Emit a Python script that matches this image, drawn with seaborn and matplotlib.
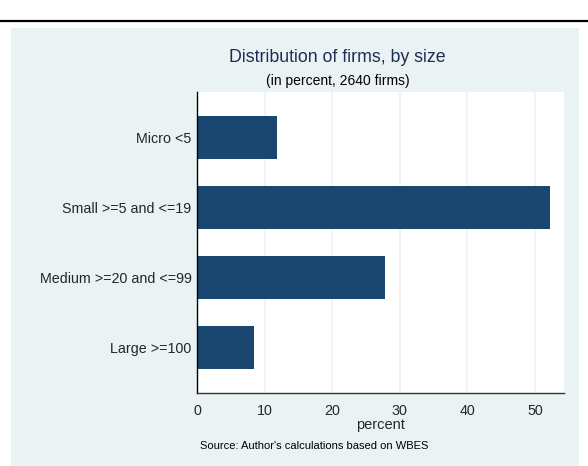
import matplotlib
matplotlib.use('Agg')
import matplotlib.pyplot as plt
import seaborn as sns
import pandas as pd
from matplotlib.patches import Rectangle
from matplotlib.lines import Line2D

categories = ['Micro <5', 'Small >=5 and <=19', 'Medium >=20 and <=99', 'Large >=100']
percent = [11.8, 52.2, 27.8, 8.4]
xticks = [0, 10, 20, 30, 40, 50]

bar_color = '#1a476f'
panel_color = '#eaf2f3'
title_color = '#1e2d54'

sns.set_style('white')
plt.rcParams['font.family'] = ['Liberation Sans', 'DejaVu Sans']

df = pd.DataFrame({'size': categories, 'percent': percent})

fig = plt.figure(figsize=(5.88, 4.66), dpi=100)
W, H = 588, 466

# outer panel and top rule
fig.patches.append(Rectangle((11 / W, 0), (579 - 11) / W, 1 - 28 / H,
                             transform=fig.transFigure, facecolor=panel_color,
                             edgecolor='none', zorder=-10))
fig.lines.append(Line2D([0, 1], [1 - 21 / H, 1 - 21 / H], transform=fig.transFigure,
                        color='black', linewidth=1.6))

ax = fig.add_axes([197 / W, 1 - 393 / H, (564 - 197) / W, (393 - 92) / H])
ax.set_facecolor('white')
sns.barplot(data=df, x='percent', y='size', orient='h', color=bar_color,
            width=0.61, saturation=1, linewidth=0, ax=ax, zorder=2)

ax.set_xlim(0, 54.3)
ax.set_ylim(3.65, -0.65)
ax.set_xticks(xticks)
ax.set_xticklabels([str(t) for t in xticks], fontsize=10.3)
ax.tick_params(axis='y', length=0, labelsize=10.3, pad=4)
ax.tick_params(axis='x', length=5, width=0.9, color='#333333', pad=3)
ax.grid(axis='x', color=panel_color, linewidth=1.1, zorder=0)
ax.set_axisbelow(True)
for s in ['top', 'right']:
    ax.spines[s].set_visible(False)
ax.spines['left'].set_color('black')
ax.spines['left'].set_linewidth(1.0)
ax.spines['bottom'].set_color('#333333')
ax.spines['bottom'].set_linewidth(1.0)
ax.set_ylabel('')
ax.set_xlabel('percent', fontsize=10.5, labelpad=0)

fig.text(337 / W, 1 - 57 / H, 'Distribution of firms, by size', ha='center', va='center',
         fontsize=12.8, color=title_color)
fig.text(338 / W, 1 - 81 / H, '(in percent, 2640 firms)', ha='center', va='center',
         fontsize=10, color='black')
fig.text(200 / W, 1 - 446 / H, "Source: Author's calculations based on WBES", ha='left',
         va='center', fontsize=8, color='black')

fig.savefig('out.png', dpi=100, facecolor='white')
